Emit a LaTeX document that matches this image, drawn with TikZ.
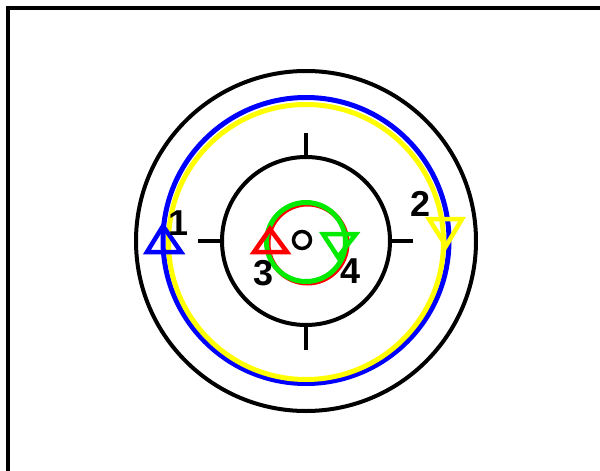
\documentclass[tikz,border=0pt]{standalone}
\usepackage{fontspec}
\setmainfont{Liberation Sans}
\definecolor{cblue}{RGB}{0,0,255}
\definecolor{cyellow}{RGB}{255,255,0}
\definecolor{cred}{RGB}{255,0,0}
\definecolor{cgreen}{RGB}{0,235,0}
\tikzset{
  blk/.style={draw=black, line width=4pt},
  ring/.style={line width=5pt},
  tri/.style={line width=4.5pt, line join=miter},
  lbl/.style={inner sep=0pt, font=\fontsize{36}{36}\selectfont\bfseries}
}
\begin{document}
\begin{tikzpicture}[x=1pt,y=-1pt]
\useasboundingbox (0,0) rectangle (600,471);
\fill[white] (0,0) rectangle (600,471);
% frame
\draw[line width=4pt] (8,480) -- (8,8) -- (610,8);
% black circles
\coordinate (c) at (306,241);
\draw[blk] (c) circle (170);
\draw[blk] (c) circle (84);
% ticks
\draw[blk] (198,241) -- (222,241);
\draw[blk] (390,241) -- (413,241);
\draw[blk] (306,133) -- (306,157);
\draw[blk] (306,325) -- (306,350);
% coloured rings
\draw[ring, cblue] (306,240.5) circle (143);
\draw[ring, cyellow] (306,242) circle (137.5);
\draw[ring, cred] (307.5,243.5) circle (39.5);
\draw[ring, cgreen] (306,242) circle (39.5);
% centre circle
\draw[line width=3.5pt] (302,240) circle (8.5);
% triangles
\draw[tri, cblue] (163,226) -- (147,252) -- (181,252) -- cycle;
\draw[tri, cyellow] (429,219) -- (462,219) -- (446,246) -- cycle;
\draw[tri, cred] (270,229) -- (254,252) -- (287,252) -- cycle;
\draw[tri, cgreen] (323,234) -- (356,234) -- (338,257) -- cycle;
% labels
\node[lbl] (l1) at (179,223) {1};
\node[lbl] (l2) at (421,204) {2};
\node[lbl] (l3) at (264,273) {3};
\node[lbl] (l4) at (351,271) {4};
\end{tikzpicture}
\end{document}
